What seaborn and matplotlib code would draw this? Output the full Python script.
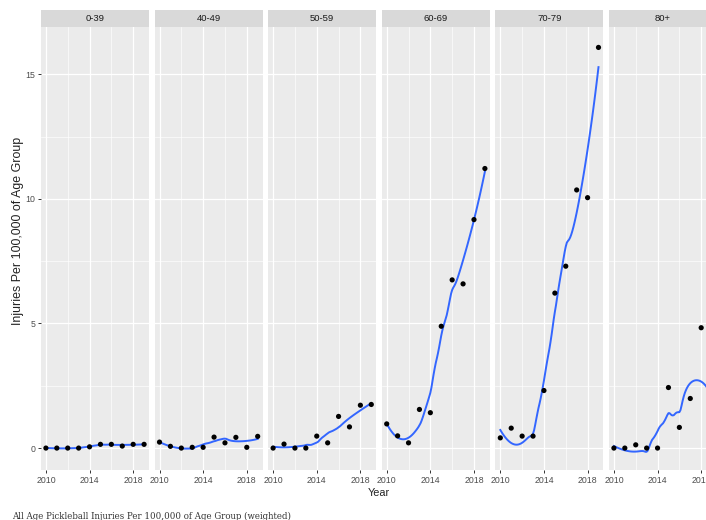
import numpy as np
import pandas as pd
import matplotlib
matplotlib.use('Agg')
import matplotlib.pyplot as plt
from matplotlib.patches import Rectangle
import seaborn as sns

years = list(range(2010, 2020))
age_groups = ['0-39', '40-49', '50-59', '60-69', '70-79', '80+']
rate_0_39 = [0.0, 0.0, 0.0, 0.0, 0.05, 0.15, 0.15, 0.08, 0.15, 0.15]
rate_40_49 = [0.24, 0.07, 0.0, 0.03, 0.03, 0.44, 0.21, 0.43, 0.03, 0.47]
rate_50_59 = [0.0, 0.16, 0.0, 0.0, 0.48, 0.21, 1.27, 0.85, 1.72, 1.75]
rate_60_69 = [0.97, 0.49, 0.21, 1.55, 1.42, 4.89, 6.75, 6.59, 9.17, 11.22]
rate_70_79 = [0.41, 0.80, 0.48, 0.48, 2.31, 6.22, 7.30, 10.36, 10.05, 16.08]
rate_80_up = [0.0, 0.0, 0.13, 0.0, 0.0, 2.43, 0.83, 1.99, 4.83, 1.1]
caption = 'All Age Pickleball Injuries Per 100,000 of Age Group (weighted)'

rates = [rate_0_39, rate_40_49, rate_50_59, rate_60_69, rate_70_79, rate_80_up]
df = pd.DataFrame({
    'year': np.tile(years, len(age_groups)),
    'rate': np.concatenate(rates),
    'group': np.repeat(age_groups, len(years)),
})


def loess(x, y, grid, span=0.75):
    # local quadratic fit with tricube weights, like R's loess default
    x = np.asarray(x, float)
    y = np.asarray(y, float)
    q = int(np.floor(len(x) * span))
    fit = []
    for x0 in grid:
        d = np.abs(x - x0)
        h = np.sort(d)[q - 1] * 1.01
        w = np.clip(1 - (d / h) ** 3, 0, None) ** 3
        sw = np.sqrt(w)
        X = np.column_stack([np.ones_like(x), x - x0, (x - x0) ** 2])
        beta = np.linalg.lstsq(X * sw[:, None], y * sw, rcond=None)[0]
        fit.append(beta[0])
    return np.array(fit)


grid = np.linspace(2010, 2019, 91)
smooth = pd.concat([
    pd.DataFrame({'year': grid, 'rate': loess(years, r, grid), 'group': g})
    for g, r in zip(age_groups, rates)
])

plt.rcParams['font.family'] = ['Liberation Sans', 'DejaVu Sans']
W, H = 706, 520
fig = plt.figure(figsize=(W / 100, H / 100), dpi=100)

for i, g in enumerate(age_groups):
    left = 41 + i * 113.6
    ax = fig.add_axes([left / W, 50 / H, 108 / W, 443 / H])
    ax.set_facecolor('#EBEBEB')
    for s in ax.spines.values():
        s.set_visible(False)

    sns.lineplot(data=smooth[smooth.group == g], x='year', y='rate', color='#3366FF',
                 lw=1.4, estimator=None, ax=ax, zorder=2)
    sns.scatterplot(data=df[df.group == g], x='year', y='rate', color='black',
                    s=14, edgecolor='none', ax=ax, zorder=3)

    ax.set_xlim(2009.55, 2019.45)
    ax.set_ylim(-0.88, 16.9)
    ax.set_xticks([2010, 2014, 2018])
    ax.set_xticks([2012, 2016], minor=True)
    ax.set_yticks([0, 5, 10, 15])
    ax.set_yticks([2.5, 7.5, 12.5], minor=True)
    ax.grid(which='major', color='white', lw=0.9)
    ax.grid(which='minor', color='white', lw=0.45)
    ax.set_axisbelow(True)
    ax.set_xlabel('')
    ax.set_ylabel('')
    ax.tick_params(which='major', length=2.5, width=0.7, color='#333333',
                   labelsize=6.3, labelcolor='#4D4D4D', pad=1.5)
    ax.tick_params(which='minor', length=0)
    if i > 0:
        ax.tick_params(axis='y', left=False, labelleft=False)

    ax.add_patch(Rectangle((0, 1), 1, 17 / 443, transform=ax.transAxes,
                           facecolor='#D9D9D9', edgecolor='none', clip_on=False))
    ax.text(0.5, 1 + 8.5 / 443, g, transform=ax.transAxes, ha='center', va='center',
            fontsize=6.8, color='#1A1A1A')

fig.text(379 / W, 1 - 493 / H, 'Year', ha='center', va='center', fontsize=7.8, color='#222222')
fig.text(18 / W, 1 - 231 / H, 'Injuries Per 100,000 of Age Group', rotation=90,
         ha='center', va='center', fontsize=8.9, color='#222222')
fig.text(12 / W, 1 - 516 / H, caption, ha='left', va='center', family='DejaVu Serif',
         fontsize=6.2, color='#333333')

fig.savefig('out.png', dpi=100)
